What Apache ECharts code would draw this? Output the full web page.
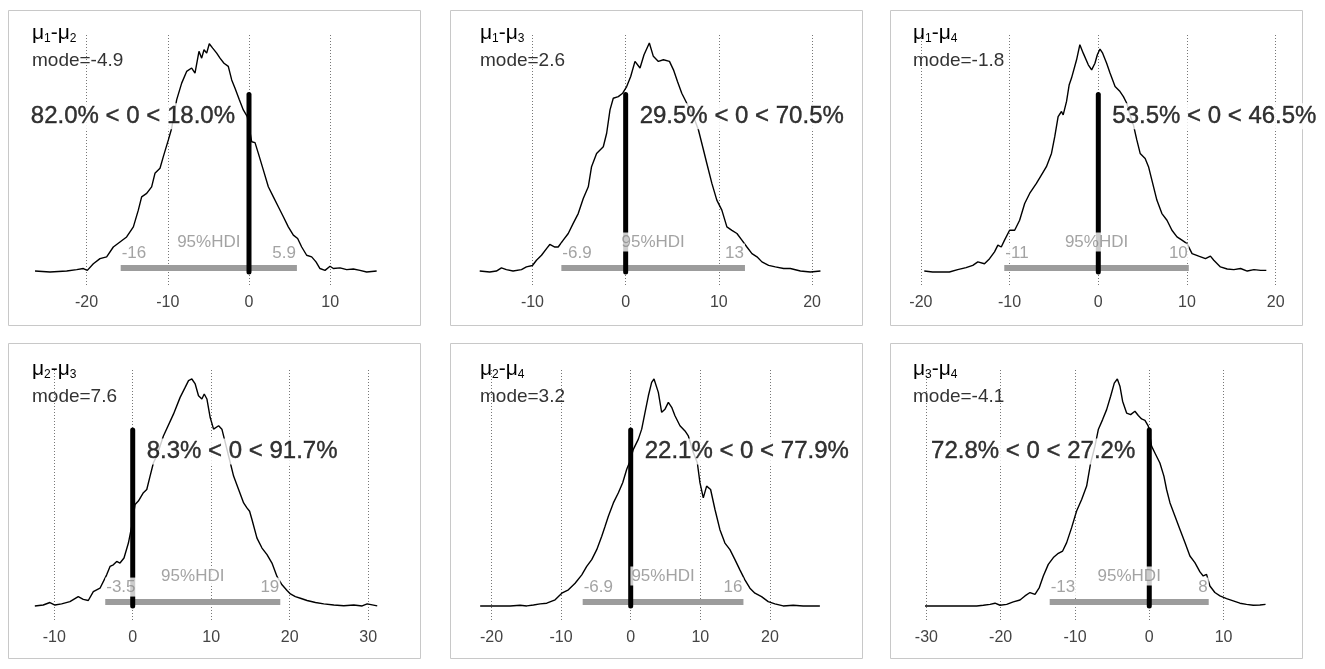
<!DOCTYPE html>
<html>
<head>
<meta charset="utf-8">
<script src="https://cdn.jsdelivr.net/npm/echarts@6/dist/echarts.min.js"></script>
<style>
  html, body { margin: 0; padding: 0; background: #fff; }
  #chart { width: 1325px; height: 669px; }
</style>
</head>
<body>
<div id="chart"></div>
<script>
// ---- data ----
const pairs = [[1, 2], [1, 3], [1, 4], [2, 3], [2, 4], [3, 4]];
const modes = ["-4.9", "2.6", "-1.8", "7.6", "3.2", "-4.1"];
const pctBelow = ["82.0", "29.5", "53.5", "8.3", "22.1", "72.8"];
const pctAbove = ["18.0", "70.5", "46.5", "91.7", "77.9", "27.2"];
const compVal = 0;
const hdiLow = [-15.8, -6.9, -10.6, -3.5, -6.9, -13.4];
const hdiHigh = [5.9, 12.8, 10.2, 18.8, 16.2, 8.0];
const hdiLowText = ["-16", "-6.9", "-11", "-3.5", "-6.9", "-13"];
const hdiHighText = ["5.9", "13", "10", "19", "16", "8"];
const xTicks = [
  [-20, -10, 0, 10],
  [-10, 0, 10, 20],
  [-20, -10, 0, 10, 20],
  [-10, 0, 10, 20, 30],
  [-20, -10, 0, 10, 20],
  [-30, -20, -10, 0, 10]
];
const xMin = [-28.2, -17.56, -22.13, -14.36, -24.24, -33.28];
const xMax = [19.58, 24.07, 21.61, 35.07, 31.51, 18.94];

// posterior density curves (height relative to the panel's peak)
const dens1X = [-26.35,-24.51,-22.45,-21.22,-20.40,-19.91,-19.17,-18.35,-17.53,-16.71,-15.89,-15.07,-14.24,-13.63,-13.22,-12.60,-11.99,-11.58,-10.96,-10.55,-9.93,-9.52,-8.91,-8.29,-7.68,-7.06,-6.65,-6.16,-5.83,-5.54,-5.21,-4.89,-4.47,-3.98,-3.57,-3.08,-2.55,-2.13,-1.72,-1.19,-0.70,-0.21,0.33,0.74,1.15,1.77,2.38,3.00,3.61,4.23,4.84,5.46,5.99,6.49,7.10,7.72,8.25,8.74,9.36,9.98,10.39,11.21,12.03,12.85,13.67,14.49,15.72];
const dens1Y = [0.004,0,0.004,0.010,0.015,0.007,0.036,0.058,0.066,0.109,0.131,0.153,0.197,0.270,0.328,0.343,0.372,0.431,0.453,0.504,0.577,0.628,0.752,0.825,0.876,0.891,0.869,0.964,0.934,0.971,0.956,0.997,0.978,0.956,0.934,0.912,0.898,0.839,0.803,0.752,0.708,0.679,0.569,0.565,0.518,0.445,0.372,0.328,0.285,0.241,0.197,0.161,0.146,0.109,0.073,0.066,0.044,0.015,0.007,0.025,0.015,0.018,0.010,0.013,0.007,0,0.004];

const dens2X = [-15.66,-14.59,-13.87,-13.33,-12.80,-12.08,-11.18,-10.65,-10.00,-9.57,-9.03,-8.49,-8.14,-7.60,-7.24,-6.70,-6.16,-5.63,-5.09,-4.55,-4.01,-3.66,-3.12,-2.40,-2.04,-1.68,-1.33,-0.79,-0.32,0.11,0.54,1.00,1.54,1.97,2.54,2.97,3.51,4.05,4.70,5.13,5.56,6.02,6.56,7.28,7.81,8.35,8.71,9.25,9.78,10.32,10.86,11.40,11.94,12.47,13.01,13.55,14.09,14.62,15.34,16.06,16.95,17.67,18.75,19.82,20.90];
const dens2Y = [0.004,0,0.004,0.018,0.010,0.004,0.010,0.022,0.028,0.051,0.073,0.102,0.120,0.109,0.109,0.139,0.168,0.212,0.255,0.321,0.372,0.460,0.518,0.547,0.606,0.708,0.759,0.766,0.781,0.810,0.854,0.920,0.891,0.949,1.0,0.942,0.920,0.927,0.920,0.883,0.832,0.781,0.737,0.679,0.620,0.533,0.474,0.387,0.314,0.270,0.197,0.182,0.168,0.139,0.109,0.080,0.066,0.044,0.029,0.022,0.015,0.015,0.004,0,0.004];

const dens3X = [-19.62,-18.68,-17.74,-16.79,-15.85,-14.91,-14.15,-13.58,-12.83,-12.26,-11.70,-11.32,-10.94,-10.57,-10.00,-9.43,-8.87,-8.30,-7.74,-6.98,-6.42,-5.85,-5.28,-4.91,-4.53,-4.15,-3.96,-3.58,-3.28,-3.02,-2.83,-2.45,-2.08,-1.70,-1.13,-0.75,-0.38,-0.11,0.19,0.49,0.94,1.32,1.89,2.45,2.83,3.21,3.58,3.96,4.34,4.72,5.28,5.66,6.04,6.60,7.17,7.74,8.30,8.87,9.43,10.00,10.57,11.32,12.08,12.64,13.02,13.77,14.53,15.28,16.04,16.79,17.55,18.30,18.94];
const dens3Y = [0.004,0,0,0,0.010,0.019,0.029,0.044,0.036,0.058,0.088,0.117,0.109,0.139,0.182,0.182,0.226,0.299,0.343,0.387,0.423,0.460,0.518,0.591,0.679,0.701,0.686,0.745,0.818,0.847,0.839,0.927,0.993,0.956,0.905,0.883,0.912,0.949,0.974,0.956,0.912,0.869,0.810,0.788,0.766,0.737,0.686,0.642,0.577,0.518,0.496,0.460,0.401,0.314,0.255,0.226,0.182,0.153,0.139,0.124,0.080,0.069,0.058,0.069,0.051,0.022,0.013,0.010,0.015,0.004,0.010,0.007,0.007];

const dens4X = [-12.47,-11.40,-10.55,-9.91,-9.06,-8.00,-6.94,-6.30,-5.66,-5.02,-4.17,-3.32,-2.89,-2.47,-2.04,-1.62,-1.11,-0.55,-0.13,0.30,0.72,1.36,1.79,2.21,2.64,3.06,3.91,5.19,6.04,6.68,7.11,7.53,7.96,8.38,8.81,9.11,9.45,9.87,10.30,10.94,11.36,12.43,12.85,13.49,14.13,14.55,14.89,15.19,15.83,16.47,17.11,17.74,18.38,19.02,19.66,20.09,20.72,21.36,22.21,23.28,24.34,25.62,26.89,28.17,29.23,29.87,31.15];
const dens4Y = [0,0.004,0.015,0.004,0.009,0.019,0.041,0.029,0.024,0.063,0.078,0.137,0.174,0.181,0.196,0.189,0.211,0.277,0.351,0.447,0.462,0.499,0.513,0.572,0.631,0.661,0.749,0.845,0.919,0.963,0.993,1.0,0.978,0.926,0.912,0.934,0.912,0.830,0.779,0.794,0.779,0.631,0.572,0.513,0.454,0.432,0.417,0.381,0.299,0.255,0.226,0.189,0.130,0.093,0.068,0.053,0.041,0.034,0.024,0.015,0.009,0.004,0.001,0.004,0,0.009,0];

const dens5X = [-21.63,-20.19,-18.76,-17.32,-15.89,-14.93,-13.97,-13.01,-12.06,-10.86,-9.90,-8.95,-7.99,-7.03,-6.32,-5.60,-4.88,-4.16,-3.68,-3.21,-2.49,-1.77,-1.15,-0.57,-0.19,0.38,1.10,1.58,2.06,2.54,3.01,3.35,3.97,4.45,4.93,5.41,5.89,6.36,7.08,7.80,8.28,9.00,9.57,9.95,10.43,10.91,11.48,12.11,12.82,13.54,14.26,14.98,15.69,16.41,17.13,17.85,18.80,19.76,20.72,21.91,23.35,24.78,25.74,27.18];
const dens5Y = [0,0,0,0,0.003,0,0.004,0.009,0.012,0.027,0.056,0.071,0.100,0.137,0.174,0.204,0.248,0.307,0.351,0.395,0.454,0.499,0.543,0.602,0.631,0.690,0.735,0.779,0.853,0.926,0.985,1.0,0.941,0.853,0.867,0.897,0.875,0.838,0.794,0.771,0.749,0.676,0.631,0.543,0.476,0.528,0.513,0.425,0.336,0.277,0.248,0.204,0.159,0.115,0.078,0.056,0.041,0.019,0.009,0,0.003,0,0,0];

const dens6X = [-30.18,-28.61,-26.82,-25.02,-23.23,-22.33,-21.43,-20.76,-20.09,-19.19,-18.30,-17.40,-16.73,-16.05,-15.38,-14.80,-14.26,-13.59,-12.91,-12.24,-11.66,-11.12,-10.45,-9.78,-9.10,-8.43,-7.89,-7.31,-6.86,-6.28,-5.74,-5.20,-4.71,-4.30,-3.95,-3.59,-3.05,-2.51,-1.93,-1.48,-1.03,-0.58,-0.13,0.31,0.76,1.43,1.97,2.33,2.78,3.45,4.13,4.80,5.47,6.14,6.82,7.26,7.71,8.16,8.83,9.51,10.40,11.30,12.20,13.09,13.99,14.89,15.65];
const dens6Y = [0,0,0,0,0,0.003,0.007,0.012,0.003,0.007,0.018,0.026,0.044,0.059,0.051,0.081,0.132,0.183,0.213,0.232,0.242,0.279,0.345,0.418,0.469,0.528,0.630,0.704,0.777,0.821,0.865,0.924,0.982,1.0,0.968,0.902,0.850,0.843,0.858,0.839,0.824,0.818,0.792,0.704,0.674,0.630,0.572,0.513,0.455,0.396,0.337,0.279,0.220,0.191,0.150,0.132,0.139,0.088,0.059,0.044,0.032,0.022,0.012,0.007,0.003,0.004,0.007];

const densX = [dens1X, dens2X, dens3X, dens4X, dens5X, dens6X];
const densY = [dens1Y, dens2Y, dens3Y, dens4Y, dens5Y, dens6Y];

// ---- layout ----
const panelX = [8, 450, 890];
const panelY = [10, 343];
const panelW = 412, panelH = 315;
const gridTop = [33, 369];
const gridH = [252, 251];
const yMin = [-0.057, -0.062];
const gridL = 12, gridW = 388;
const titleDX = [24, 30, 23];
const textSide = ["left", "right", "right", "right", "right", "left"];
const barY = 0.017;
const compTop = 0.775;
const statY = 0.68;
const FONT = "'Liberation Sans', Arial, Helvetica, sans-serif";

const chart = echarts.init(document.getElementById("chart"));

const grids = [], xAxes = [], yAxes = [], titles = [], series = [], frames = [];

for (let i = 0; i < 6; i++) {
  const row = Math.floor(i / 3), col = i % 3;

  frames.push({
    type: "rect",
    shape: { x: panelX[col] + 0.5, y: panelY[row] + 0.5, width: panelW, height: panelH },
    style: { fill: "none", stroke: "#c8c8c8", lineWidth: 1 },
    silent: true
  });

  grids.push({
    left: panelX[col] + gridL,
    top: gridTop[row],
    width: gridW,
    height: gridH[row]
  });

  xAxes.push({
    type: "value",
    gridIndex: i,
    min: xMin[i],
    max: xMax[i],
    axisLine: { show: false },
    axisTick: { show: false },
    splitLine: { show: false },
    axisLabel: {
      customValues: xTicks[i],
      margin: 10,
      fontSize: 16,
      color: "#444",
      fontFamily: FONT
    }
  });

  yAxes.push({
    type: "value",
    gridIndex: i,
    min: yMin[row],
    max: 1.044,
    show: false
  });

  titles.push({
    text: "{m|μ}{s|" + pairs[i][0] + "}{m|-μ}{s|" + pairs[i][1] + "}",
    subtext: "mode=" + modes[i],
    left: panelX[col] + titleDX[col],
    top: gridTop[row] - 12,
    padding: 0,
    itemGap: 6,
    textStyle: {
      fontFamily: FONT,
      fontWeight: "normal",
      lineHeight: 24,
      rich: {
        m: { fontSize: 21, color: "#000", lineHeight: 24, fontFamily: FONT },
        s: { fontSize: 12, color: "#000", lineHeight: 13, verticalAlign: "bottom", fontFamily: FONT }
      }
    },
    subtextStyle: { fontSize: 19, color: "#333", lineHeight: 20, fontFamily: FONT }
  });

  const curve = densX[i].map((x, k) => [x, densY[i][k]]);

  series.push({
    type: "line",
    xAxisIndex: i,
    yAxisIndex: i,
    data: curve,
    symbol: "none",
    lineStyle: { color: "#000", width: 1.4 },
    z: 2,
    markLine: {
      silent: true,
      z: 1,
      symbol: ["none", "none"],
      label: { show: false },
      lineStyle: { type: [1, 2], color: "#777", width: 1 },
      data: xTicks[i].map(v => ({ xAxis: v }))
    }
  });

  series.push({
    type: "line",
    xAxisIndex: i,
    yAxisIndex: i,
    data: [[hdiLow[i], barY], [hdiHigh[i], barY]],
    symbol: "none",
    lineStyle: { color: "#9c9c9c", width: 6, cap: "butt" },
    z: 3
  });

  series.push({
    type: "line",
    xAxisIndex: i,
    yAxisIndex: i,
    data: [[compVal, 0], [compVal, compTop]],
    symbol: "none",
    lineStyle: { color: "#000", width: 5, cap: "round" },
    z: 4
  });

  const hdiLabel = {
    show: true,
    position: "inside",
    fontSize: 17,
    color: "#8c8c8c",
    fontFamily: FONT,
    backgroundColor: "#fff",
    padding: [1, 1]
  };
  series.push({
    type: "scatter",
    xAxisIndex: i,
    yAxisIndex: i,
    symbolSize: 1,
    itemStyle: { color: "rgba(0,0,0,0)" },
    z: 5,
    data: [
      { value: [hdiLow[i], barY], label: Object.assign({}, hdiLabel, { formatter: hdiLowText[i], align: "left", offset: [0, -15] }) },
      { value: [hdiHigh[i], barY], label: Object.assign({}, hdiLabel, { formatter: hdiHighText[i], align: "right", offset: [0, -15] }) },
      { value: [(hdiLow[i] + hdiHigh[i]) / 2, barY], label: Object.assign({}, hdiLabel, { formatter: "95%HDI", align: "center", offset: [0, -26] }) }
    ]
  });

  const left = textSide[i] === "left";
  series.push({
    type: "scatter",
    xAxisIndex: i,
    yAxisIndex: i,
    symbolSize: 1,
    itemStyle: { color: "rgba(0,0,0,0)" },
    z: 6,
    data: [{
      value: [compVal, statY],
      label: {
        show: true,
        position: "inside",
        align: left ? "right" : "left",
        offset: [left ? -12 : 12, 0],
        formatter: pctBelow[i] + "% < " + compVal + " < " + pctAbove[i] + "%",
        fontSize: 24,
        color: "#000",
        textBorderColor: "#000",
        textBorderWidth: 0.4,
        fontFamily: FONT,
        backgroundColor: "#fff",
        padding: [1, 2]
      }
    }]
  });
}

chart.setOption({
  animation: false,
  backgroundColor: "#fff",
  textStyle: { fontFamily: FONT },
  title: titles,
  grid: grids,
  xAxis: xAxes,
  yAxis: yAxes,
  series: series,
  graphic: frames
});
</script>
</body>
</html>
